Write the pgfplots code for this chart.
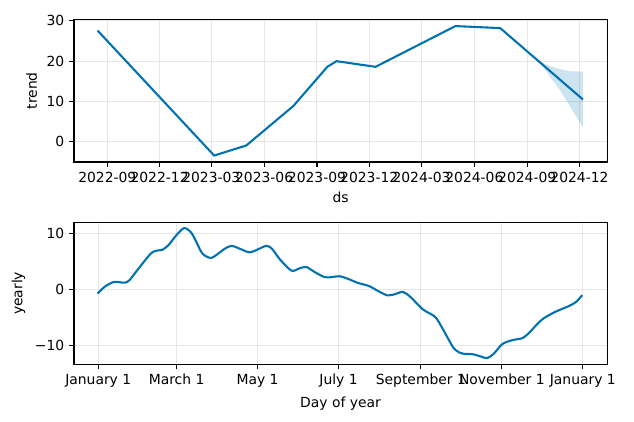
\documentclass[border=0pt]{standalone}
\usepackage{pgfplots}
\pgfplotsset{compat=1.18}
\usepackage{fontspec}
\setmainfont{DejaVu Sans}
\definecolor{pblue}{HTML}{0072B2}
\definecolor{gridc}{HTML}{E6E6E6}
\pgfplotsset{
  common/.style={
    scale only axis,
    width=383.8pt,
    height=102.5pt,
    axis line style={line width=0.8pt, black},
    tick style={line width=0.8pt, black},
    major tick length=3.5pt,
    tick align=outside,
    xtick pos=lower, ytick pos=left,
    grid=major,
    major grid style={line width=0.72pt, gridc},
    /pgf/number format/assume math mode=true,
    tick label style={font=\fontsize{10}{12}\selectfont},
    label style={font=\fontsize{10}{12}\selectfont},
  }
}
\begin{document}
\begin{tikzpicture}
\useasboundingbox (0,0) rectangle (456.48pt,-303.84pt);
\begin{axis}[common,
  at={(53.28pt,-116.64pt)}, anchor=south west,
  xmin=-58, xmax=870, ymin=-5.0, ymax=30.3,
  xtick={0,91,181,273,365,456,547,639,731,822},
  xticklabels={2022-09,2022-12,2023-03,2023-06,2023-09,2023-12,2024-03,2024-06,2024-09,2024-12},
  ytick={0,10,20,30},
  xlabel={ds}, ylabel={trend},
]
\addplot[fill=pblue, fill opacity=0.2, draw=none] coordinates {
(740,21.3) (750,20.2) (765,19.1) (783,18.2) (805,17.5) (828,17.4)
(828,3.5) (820,5.4) (806,8.7) (788,12.8) (771,16.1) (755,19.4) (740,21.3)
};
\addplot[pblue, line width=1.5pt] coordinates {
(-17,27.6) (186,-3.4) (242,-0.9) (324,8.9) (383,18.6) (399,20.0) (467,18.6) (606,28.7) (684,28.2) (828,10.5)
};
\end{axis}
\begin{axis}[common,
  at={(53.28pt,-262.5pt)}, anchor=south west,
  xmin=-18.25, xmax=383.25, ymin=-13.35, ymax=11.95,
  xtick={0,59,120,181,243,304,365},
  xticklabels={January 1,March 1,May 1,July 1,September 1,November 1,January 1},
  ytick={-10,0,10},
  yticklabels={−10,0,10},
  xlabel={Day of year}, ylabel={yearly},
]
\addplot[pblue, line width=1.5pt, smooth, tension=0.5] coordinates {
(-0.5,-0.75) (5,0.5) (12,1.35) (19.5,1.2) (23.3,1.6) (30,3.6) (39.5,6.35) (44,6.9) (48.3,7.05) (53,7.9) (58,9.4) (64.6,10.9) (70,10.1) (74,8.4) (78.4,6.4) (84.6,5.6) (90,6.3) (95,7.2) (100.4,7.75) (107,7.2) (114,6.6) (120,7.1) (126.7,7.75) (131,7.2) (137,5.3) (145.5,3.35) (151,3.7) (156.7,4.0) (163,3.1) (170.5,2.2) (176,2.2) (181.7,2.35) (188,1.9) (195.5,1.17) (204,0.6) (211,-0.3) (218,-1.06) (224,-0.8) (229.3,-0.42) (235,-1.3) (244.3,-3.5) (250,-4.3) (254.3,-5.0) (259,-6.8) (264.4,-9.1) (268,-10.5) (272,-11.2) (276,-11.45) (282,-11.5) (288,-11.9) (293,-12.2) (298,-11.4) (304.4,-9.7) (312,-9.0) (319.4,-8.65) (325,-7.6) (330,-6.3) (335.7,-5.1) (344.5,-3.95) (354.5,-2.95) (360,-2.2) (364.5,-1.0)
};
\end{axis}
\end{tikzpicture}
\end{document}
